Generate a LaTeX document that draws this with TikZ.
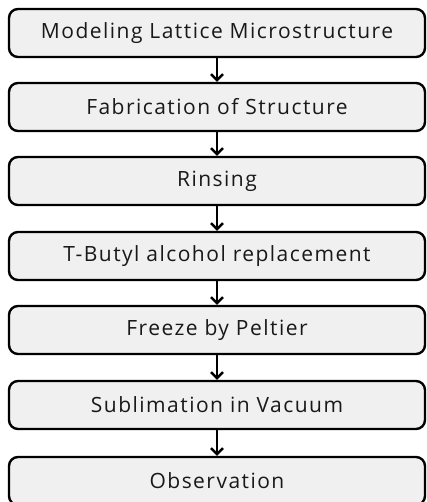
\documentclass[tikz,border=0pt]{standalone}
\usepackage{fontspec}
\setmainfont[LetterSpace=7]{Open Sans}
\usetikzlibrary{arrows.meta,positioning}

\begin{document}
\begin{tikzpicture}[x=1pt, y=-1pt, font=\fontsize{21}{24}\selectfont,
  stepbox/.style={draw, line width=2.4pt, rounded corners=9pt, fill=black!6,
    minimum width=416pt, minimum height=48pt, inner sep=0pt, text=black!90},
  flow/.style={-{Straight Barb[length=6pt,width=12pt]}, line width=2.4pt}]

\useasboundingbox (0,0) rectangle (427,502);
\clip (0,0) rectangle (427,502);

% process steps
\node[stepbox] (model) at (217,33) {Modeling Lattice Microstructure};
\node[stepbox] (fab) at (217,107) {Fabrication of Structure};
\node[stepbox] (rinse) at (217,181) {Rinsing};
\node[stepbox] (tba) at (217,256) {T-Butyl alcohol replacement};
\node[stepbox] (freeze) at (217,330) {Freeze by Peltier};
\node[stepbox] (sublim) at (217,405) {Sublimation in Vacuum};
\node[stepbox] (obs) at (217,481) {Observation};

% arrows
\draw[flow] (model) -- (fab);
\draw[flow] (fab) -- (rinse);
\draw[flow] (rinse) -- (tba);
\draw[flow] (tba) -- (freeze);
\draw[flow] (freeze) -- (sublim);
\draw[flow] (sublim) -- (obs);
\end{tikzpicture}
\end{document}
